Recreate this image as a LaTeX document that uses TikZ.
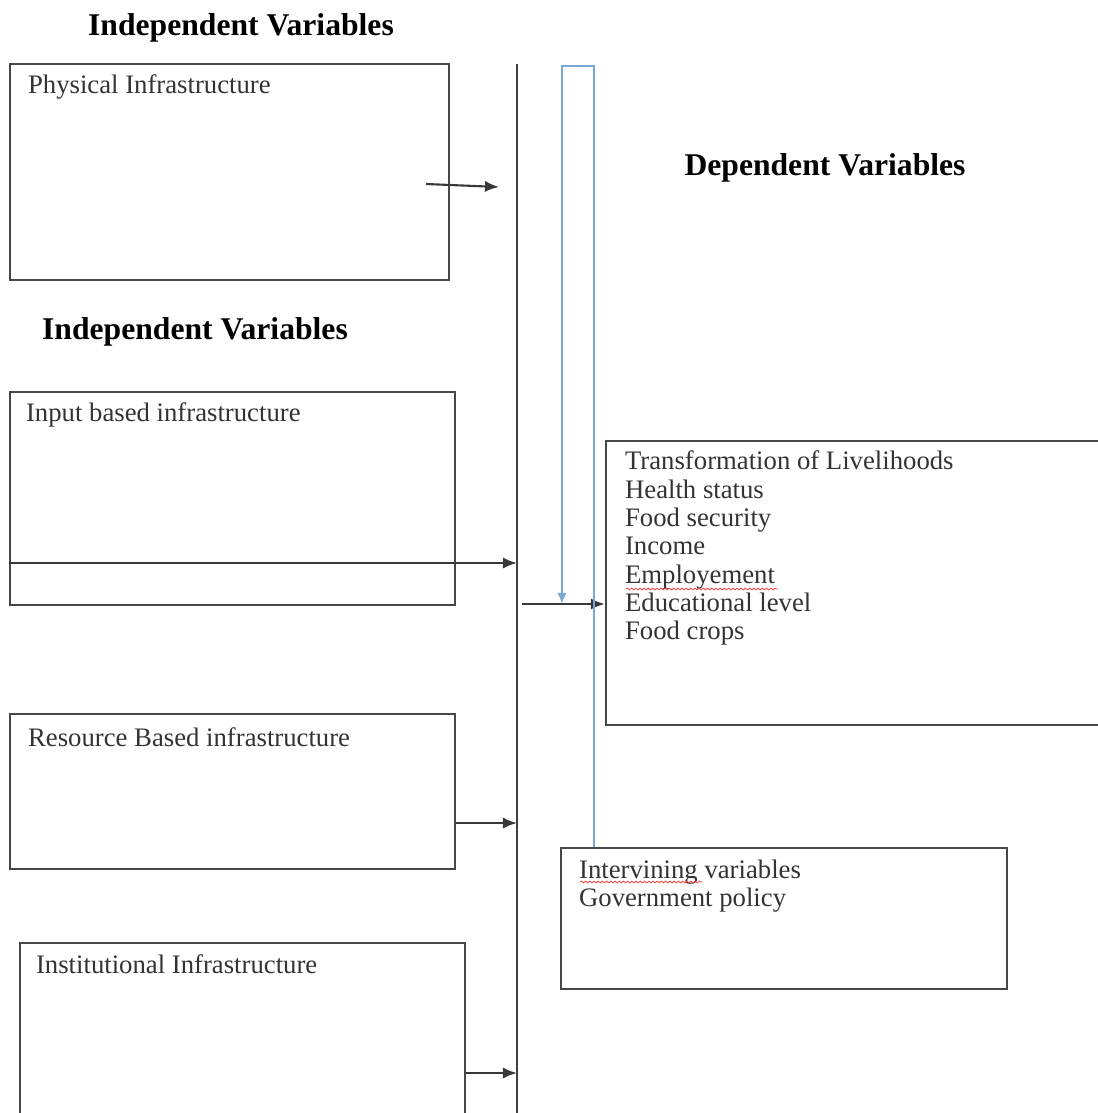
\documentclass[tikz,border=0pt]{standalone}
\usepackage{fontspec}
\setmainfont{Liberation Serif}
\usetikzlibrary{arrows,arrows.meta}
\usetikzlibrary{decorations.pathmorphing}
\definecolor{linkblue}{RGB}{122,168,212}

\begin{document}
\begin{tikzpicture}[x=0.025cm,y=-0.025cm]
	\tikzstyle{box}=[draw=black!72, line width=1.6pt, rectangle, inner sep=0pt]
	\tikzstyle{lbl}=[anchor=north west, inner sep=0pt, text=black!80, align=left, font=\fontsize{19}{20.1}\selectfont]
	\tikzstyle{head}=[inner sep=0pt, font=\fontsize{22.5}{27}\selectfont\bfseries]
	\tikzstyle{link}=[draw=black!78, line width=1.5pt, -{Latex[length=10pt,width=8pt]}]
	\tikzstyle{blueline}=[draw=linkblue, line width=1.8pt, -{Latex[length=8pt,width=7pt]}]
	\tikzstyle{spell}=[draw=red!80, line width=0.5pt, decorate, decoration={snake, amplitude=0.7pt, segment length=3pt}]
	\useasboundingbox (0,0) rectangle (1098,1113);
	\clip (0,0) rectangle (1098,1113);

	% headings
	\node[head] (indep1) at (241,28) {Independent Variables};
	\node[head] (indep2) at (195,332) {Independent Variables};
	\node[head] (dep) at (825,168) {Dependent Variables};

	% boxes
	\node[box, minimum width=10.975cm, minimum height=5.4cm] (phys) at (229.5,172) {};
	\node[box, minimum width=11.125cm, minimum height=5.325cm] (input) at (232.5,498.5) {};
	\node[box, minimum width=11.125cm, minimum height=3.875cm] (resource) at (232.5,791.5) {};
	\node[box, minimum width=11.125cm, minimum height=4.375cm] (inst) at (242.5,1030.5) {};
	\node[box, minimum width=12.6cm, minimum height=7.1cm] (livelihood) at (858,583) {};
	\node[box, minimum width=11.15cm, minimum height=3.525cm] (interv) at (784,918.5) {};

	\node[lbl] (phystext) at ([shift={(19,12)}]phys.north west) {Physical Infrastructure};
	\node[lbl] (inputtext) at ([shift={(17,12)}]input.north west) {Input based infrastructure};
	\node[lbl] (resourcetext) at ([shift={(19,15)}]resource.north west) {Resource Based infrastructure};
	\node[lbl] (insttext) at ([shift={(17,13)}]inst.north west) {Institutional Infrastructure};
	\node[lbl] (livetext) at ([shift={(20,11)}]livelihood.north west) {Transformation of Livelihoods\\Health status\\Food security\\Income\\Employement\\Educational level\\Food crops};
	\node[lbl] (intervtext) at ([shift={(19,13)}]interv.north west) {Intervining variables\\Government policy};

	% spell marks
	\coordinate (e1) at (626,589);
	\coordinate (e2) at (778,589);
	\coordinate (i1) at (580,882);
	\coordinate (i2) at (702,882);
	\draw[spell] (e1) -- (e2);
	\draw[spell] (i1) -- (i2);

	% spine and arrows
	\coordinate (top) at (517,64);
	\coordinate (bot) at (517,1113);
	\coordinate (s1) at (517,563);
	\coordinate (s2) at (517,823);
	\coordinate (s3) at (517,1073);
	\coordinate (p1) at (426,184);
	\coordinate (p2) at (499,187);
	\coordinate (o1) at (522,604);
	\draw[draw=black!75, line width=1.6pt] (top) -- (bot);
	\draw[link] (p1) -- (p2);
	\draw[link] (input.west |- s1) -- (s1);
	\draw[link] (resource.east |- s2) -- (s2);
	\draw[link] (inst.east |- s3) -- (s3);
	\draw[link] (o1) -- (livelihood.west |- o1);

	% feedback line
	\coordinate (b1) at (594,66);
	\coordinate (b2) at (562,66);
	\coordinate (b3) at (562,604);
	\draw[blueline] (b1 |- interv.north) -- (b1) -- (b2) -- (b3);
\end{tikzpicture}
\end{document}
